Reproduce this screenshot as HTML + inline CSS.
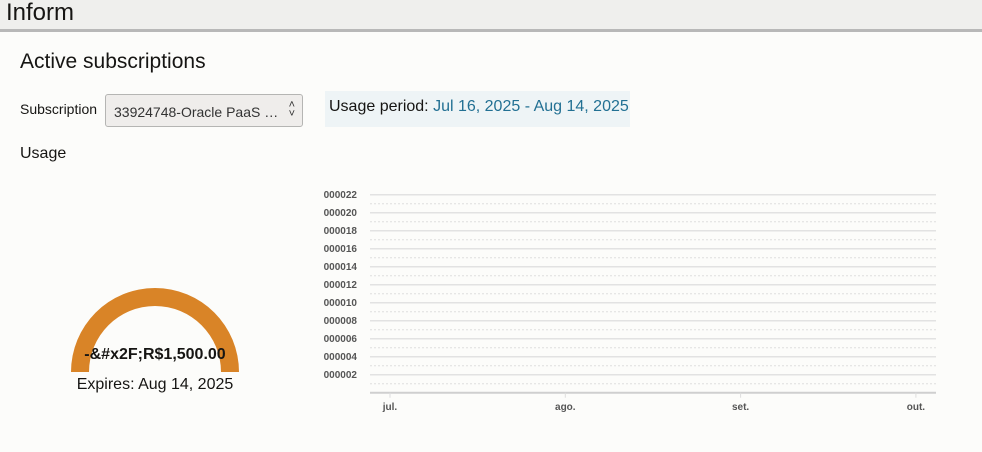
<!DOCTYPE html>
<html><head><meta charset="utf-8">
<style>
body{margin:0;width:982px;height:452px;background:#fcfcfa;font-family:"Liberation Sans",sans-serif;overflow:hidden;position:relative}
.hdr{position:absolute;left:0;top:0;width:982px;height:29px;background:#efefed;border-bottom:3px solid #b8b8b8}
.hdr span{position:absolute;left:6px;top:-1px;font-size:24px;color:#161513}
.abs{position:absolute}
</style></head><body>
<div class="hdr"><span>Inform</span></div>
<div class="abs" style="left:20px;top:50px;font-size:21px;color:#161513">Active subscriptions</div>
<div class="abs" style="left:20px;top:101px;font-size:14px;color:#161513">Subscription</div>
<div class="abs" style="left:105px;top:94px;width:198px;height:33px;box-sizing:border-box;border:1px solid #b5b5b3;border-radius:3px;background:#efedeb;font-size:14px;color:#333;padding:9px 0 0 8px">33924748-Oracle PaaS …<span style="position:absolute;right:7px;top:6px;font-size:11px;line-height:9px;text-align:center">˄<br>˅</span></div>
<div class="abs" style="left:325px;top:91px;width:305px;height:36px;background:#eef4f6;font-size:16px;color:#161513;padding:7px 0 0 4px;box-sizing:border-box">Usage period: <span style="color:#227093">Jul 16, 2025 - Aug 14, 2025</span></div>
<div class="abs" style="left:20px;top:145px;font-size:16px;color:#161513">Usage</div>
<svg class="abs" style="left:0;top:0" width="982" height="452">
<path d="M71,372 A84,84 0 0 1 239,372 L221,372 A66,66 0 0 0 89,372 Z" fill="#d98427"/>
<text x="155" y="359" text-anchor="middle" font-size="16" font-weight="bold" fill="#161513" font-family="Liberation Sans">-&amp;#x2F;R$1,500.00</text>
<text x="155" y="389" text-anchor="middle" font-size="16" fill="#161513" font-family="Liberation Sans">Expires: Aug 14, 2025</text>
<g id="grid"></g>
</svg>
<script>
const yTicks=[2,4,6,8,10,12,14,16,18,20,22];
const yLabels=["000002","000004","000006","000008","000010","000012","000014","000016","000018","000020","000022"];
const xCats=["jul.","ago.","set.","out."];
const g=document.getElementById('grid');
const ns="http://www.w3.org/2000/svg";
const x0=370,x1=936,base=392.7,step=9;
function y(v){return base-v*step;}
function xm(i){return 390+i*175.3;}
function mk(t,a){const e=document.createElementNS(ns,t);for(const k in a)e.setAttribute(k,a[k]);g.appendChild(e);return e;}
for(let v=1;v<=21;v+=2){
 const l=mk('line',{x1:x0,x2:x1,y1:y(v),y2:y(v),stroke:'#dedede','stroke-dasharray':'2,2'});
 
 
}
yTicks.forEach((v,i)=>{
 const l=mk('line',{x1:x0,x2:x1,y1:y(v),y2:y(v),stroke:'#e2e2e2','stroke-width':1.5});
 
 
 const t=mk('text',{x:357,y:y(v)+3.5,'text-anchor':'end','font-size':10,'font-weight':'bold',fill:'#555','font-family':'Liberation Sans'});
 t.textContent=yLabels[i];
 
 
});
const ax=mk('line',{x1:x0,x2:x1,y1:base,y2:base,stroke:'#cfcfcf','stroke-width':2});


xCats.forEach((c,i)=>{
 const tk=mk('line',{x1:xm(i),x2:xm(i),y1:base,y2:base+5,stroke:'#ddd'});
 
 
 const t=mk('text',{x:xm(i),y:410,'text-anchor':'middle','font-size':10,'font-weight':'bold',fill:'#555','font-family':'Liberation Sans'});
 t.textContent=c;
 
 
});
</script>
</body></html>
